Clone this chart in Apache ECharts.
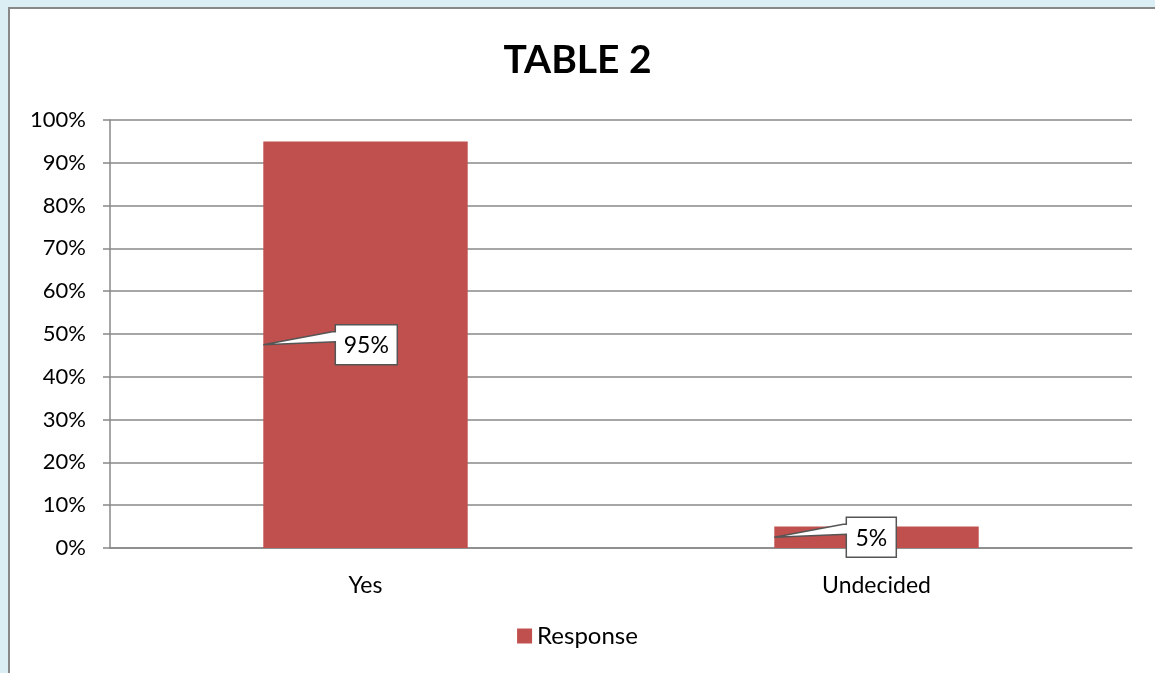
<!DOCTYPE html>
<html>
<head>
<meta charset="utf-8">
<script src="https://cdn.jsdelivr.net/npm/echarts@6/dist/echarts.min.js"></script>
<style>
html,body{margin:0;padding:0;background:#dbeef4;}
#c{width:1155px;height:673px;}
</style>
</head>
<body>
<div id="c"></div>
<script>
const categories = ['Yes', 'Undecided'];
const responseValues = [95, 5];
const yTicks = [0, 10, 20, 30, 40, 50, 60, 70, 80, 90, 100];

const FONT = 'Lato, "Open Sans", sans-serif';
const chart = echarts.init(document.getElementById('c'));

const calloutData = responseValues.map((v, i) => [i, v]);

chart.setOption({
  backgroundColor: '#dbeef4',
  animation: false,
  graphic: [{
    type: 'rect',
    shape: { x: 9, y: 8, width: 1200, height: 700 },
    style: { fill: '#ffffff', stroke: '#888888', lineWidth: 2 },
    z: -10, silent: true
  }],
  title: {
    text: 'TABLE 2',
    left: 'center',
    top: 36,
    textStyle: { fontFamily: FONT, fontSize: 39, fontWeight: 'bold', color: '#000' }
  },
  legend: {
    data: ['Response'],
    bottom: 20,
    left: 'center',
    itemWidth: 15, itemHeight: 15, itemGap: 8,
    icon: 'rect',
    textStyle: { fontFamily: FONT, fontSize: 24, color: '#000' }
  },
  grid: { left: 110, right: 23, top: 120, bottom: 125 },
  xAxis: {
    type: 'category',
    data: categories,
    axisLine: { lineStyle: { color: '#888888', width: 1.5 } },
    axisTick: { show: false },
    axisLabel: { fontFamily: FONT, fontSize: 23, color: '#000', margin: 26 }
  },
  yAxis: {
    type: 'value',
    min: 0, max: 100, interval: 10,
    axisLine: { show: true, lineStyle: { color: '#888888', width: 1.5 } },
    axisTick: { show: true, length: 7, lineStyle: { color: '#888888', width: 1.5 } },
    splitLine: { lineStyle: { color: '#888888', width: 1.5 } },
    axisLabel: {
      fontFamily: FONT, fontSize: 22, color: '#000', margin: 24,
      formatter: v => yTicks.includes(v) ? v + '%' : ''
    }
  },
  series: [{
    name: 'Response',
    type: 'bar',
    data: responseValues,
    barWidth: '40%',
    itemStyle: { color: '#c0504d' }
  }, {
    name: 'callout',
    type: 'custom',
    data: calloutData,
    z: 10,
    renderItem: function (params, api) {
      const cat = api.value(0), val = api.value(1);
      const c = api.coord([cat, val / 2]);
      const band = api.size([1, 0])[0];
      const ax = c[0] - band * 0.2, ay = c[1];
      const txt = val + '%';
      const w = txt.length * 12 + 26, h = 40;
      const bx = ax + 72, by = ay - 20;
      return {
        type: 'group',
        children: [{
          type: 'polygon',
          shape: { points: [[bx, by], [bx + w, by], [bx + w, by + h], [bx, by + h], [bx, by + 17], [ax, ay], [bx - 3, by + 7], [bx, by + 7]] },
          style: { fill: '#ffffff', stroke: '#555555', lineWidth: 1.5 }
        }, {
          type: 'text',
          style: { x: bx + w / 2, y: by + h / 2 + 1, text: txt, textAlign: 'center', textVerticalAlign: 'middle', font: '23px ' + FONT, fill: '#000' }
        }]
      };
    }
  }]
});
</script>
</body>
</html>
